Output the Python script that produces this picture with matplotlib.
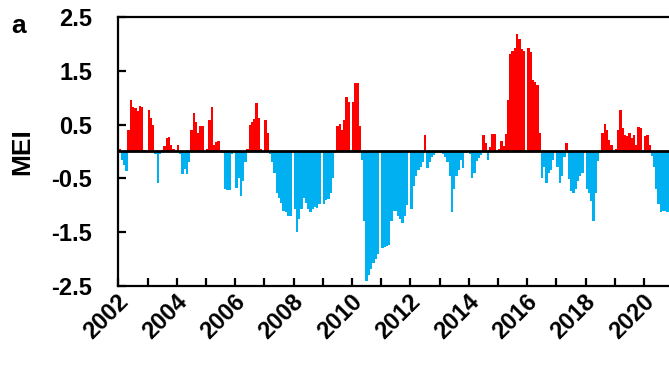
import matplotlib
matplotlib.use("Agg")
import matplotlib.pyplot as plt
import numpy as np

plt.rcParams["font.family"] = ["Liberation Sans", "DejaVu Sans"]

# monthly MEI values, Jan 2002 onwards
start_year = 2002
mei = [
    0.05, -0.15, -0.25, -0.37, 0.40, 0.95, 0.83, 0.80, 0.76, 0.85, 0.83, 0.02,  # 2002
    0.77, 0.62, 0.50, -0.05, -0.58, -0.05, 0.02, 0.10, 0.25, 0.27, 0.12, 0.05,  # 2003
    0.12, -0.05, -0.42, -0.32, -0.42, -0.20, 0.40, 0.72, 0.55, 0.35, 0.48, 0.47,  # 2004
    0.05, 0.58, 0.82, 0.12, 0.17, 0.20, 0.02, -0.02, -0.70, -0.72, -0.72, -0.05,  # 2005
    -0.67, -0.50, -0.83, -0.55, -0.20, 0.05, 0.50, 0.55, 0.60, 0.90, 0.62, 0.05,  # 2006
    0.58, 0.35, -0.05, -0.20, -0.40, -0.77, -0.86, -0.95, -1.10, -1.13, -1.20, -1.20,  # 2007
    -1.07, -1.50, -1.26, -1.07, -0.86, -0.95, -1.07, -1.12, -1.07, -1.04, -1.05, -0.98,  # 2008
    -0.98, -0.90, -0.88, -0.78, -0.50, -0.02, 0.47, 0.52, 0.40, 0.58, 1.02, 0.92,  # 2009
    0.92, 1.27, 1.28, 0.47, -0.15, -1.30, -2.40, -2.30, -2.18, -2.08, -2.00, -1.90,  # 2010
    -1.80, -1.78, -1.75, -1.73, -1.30, -1.10, -1.10, -1.20, -1.25, -1.32, -1.20, -1.00,  # 2011
    -1.07, -0.65, -0.46, -0.34, -0.28, -0.20, 0.30, -0.30, -0.20, -0.10, -0.06, -0.03,  # 2012
    -0.03, -0.05, -0.10, -0.20, -0.46, -1.13, -0.70, -0.46, -0.34, -0.15, -0.30, -0.02,  # 2013
    -0.05, -0.50, -0.40, -0.18, -0.12, -0.06, 0.30, 0.15, -0.15, 0.09, 0.33, 0.33,  # 2014
    0.05, 0.20, 0.10, 0.33, 0.95, 1.81, 1.87, 1.93, 2.19, 2.09, 1.90, 1.87,  # 2015
    1.92, 1.84, 1.32, 1.29, 1.23, 0.34, -0.49, -0.28, -0.58, -0.40, -0.34, -0.15,  # 2016
    -0.28, -0.58, -0.45, -0.10, 0.15, -0.52, -0.74, -0.77, -0.70, -0.55, -0.46, -0.40,  # 2017
    -0.70, -0.77, -0.92, -1.29, -0.77, -0.18, -0.02, 0.34, 0.52, 0.40, 0.21, 0.12,  # 2018
    0.05, 0.40, 0.77, 0.43, 0.31, 0.28, 0.34, 0.25, 0.31, 0.12, 0.46, 0.43,  # 2019
    0.29, 0.31, 0.12, -0.09, -0.28, -0.70, -0.98, -1.13, -1.10, -1.10, -1.12,  # 2020
]
yticks = [2.5, 1.5, 0.5, -0.5, -1.5, -2.5]
label_years = list(range(2002, 2021, 2))

mei = np.array(mei)
idx = np.arange(len(mei))
# 13 slots per year, last one left empty (gap at each year boundary)
xpos = start_year + idx // 12 + (idx % 12 + 0.5) / 13
colors = np.where(mei >= 0, "#FF0000", "#00B0F0")

fig = plt.figure(figsize=(6.69, 3.74), dpi=100)
ax = fig.add_axes([0.1771, 0.2353, 0.8293, 0.7193])

ax.bar(xpos, mei, width=1.06 / 13, color=colors, linewidth=0)
ax.axhline(0, color="black", lw=2)

ax.set_xlim(2002, 2021)
ax.set_ylim(-2.5, 2.5)

for s in ax.spines.values():
    s.set_linewidth(1.6)

ax.set_yticks(yticks)
ax.set_yticklabels([f"{v:.1f}" for v in yticks], fontsize=17, fontweight="bold")
ax.tick_params(axis="y", direction="in", length=6, width=1.6, pad=19)

ax.set_xticks(np.arange(2002, 2022))
ax.set_xticklabels([])
ax.tick_params(axis="x", which="major", direction="in", length=6, width=1.6)
ax.set_xticks([y + 0.5 for y in label_years], minor=True)
ax.set_xticklabels([str(y) for y in label_years], minor=True,
                   rotation=45, ha="right", fontsize=17, fontweight="bold")
ax.tick_params(axis="x", which="minor", length=0, pad=3)

fig.text(22 / 669, 1 - 152 / 374, "MEI", rotation=90, ha="center", va="center",
         fontsize=19, fontweight="bold")
fig.text(11 / 669, 1 - 26 / 374, "a", ha="left", va="center", fontsize=19,
         fontweight="bold")

fig.savefig("out.png", dpi=100)
